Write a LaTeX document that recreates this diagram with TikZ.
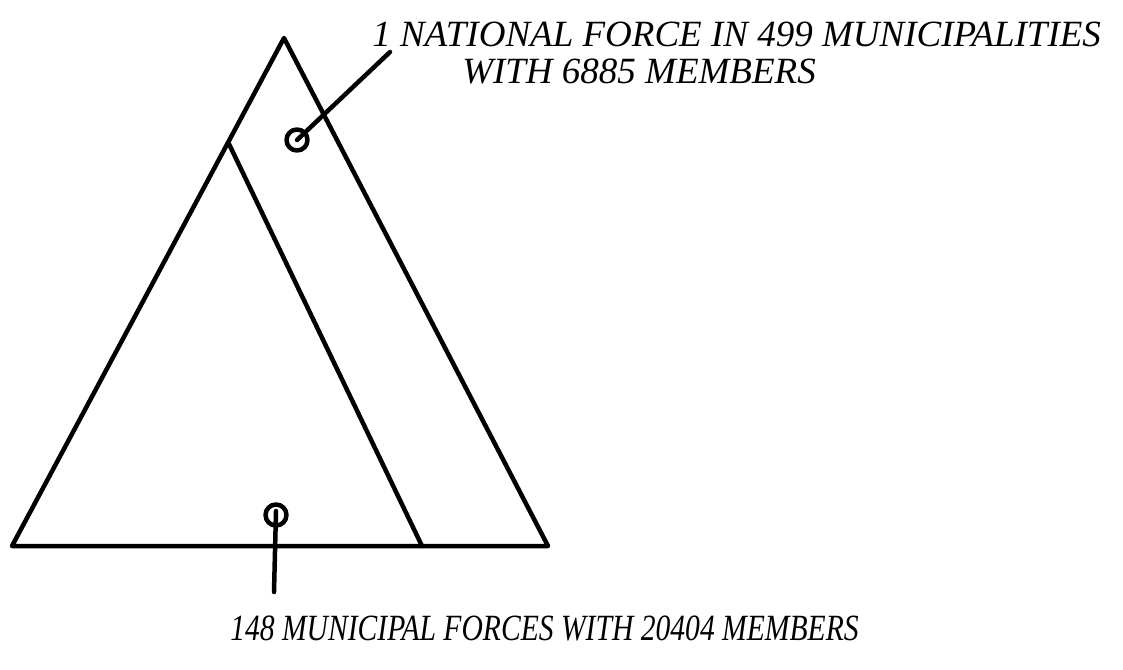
\documentclass[tikz,border=0pt]{standalone}
\usepackage{fontspec}
\setmainfont{Liberation Serif}
\begin{document}
\begin{tikzpicture}[x=1pt,y=-1pt, line width=4.5pt, line cap=round, line join=round,
  lbl/.style={font=\fontsize{37}{40}\selectfont\itshape, anchor=base west, inner sep=0pt},
  ring/.style={draw, circle, minimum size=21pt, inner sep=0pt, line width=4.5pt}]
\useasboundingbox (0,0) rectangle (1123,669);
\coordinate (apex) at (284,38);
\coordinate (bl) at (12,546);
\coordinate (br) at (548,546);
\coordinate (it) at (229,144);
\coordinate (ib) at (422,546);
\draw (bl) -- (apex) -- (br) -- cycle;
\draw (it) -- (ib);
\node[ring] (ca) at (297,140) {};
\node[ring] (cb) at (276,515) {};
\coordinate (ea) at (390,52);
\coordinate (eb) at (274,592);
\draw (ca.center) -- (ea);
\draw ([yshift=4pt]cb.center) -- (eb);
\node[lbl] (t1) at (370,46) {1 NATIONAL FORCE IN 499 MUNICIPALITIES};
\node[lbl] (t2) at (460,83) {WITH 6885 MEMBERS};
\node[lbl] (t3) at (228,640) {\scalebox{0.8}[1]{148 MUNICIPAL FORCES WITH 20404 MEMBERS}};
\end{tikzpicture}
\end{document}
